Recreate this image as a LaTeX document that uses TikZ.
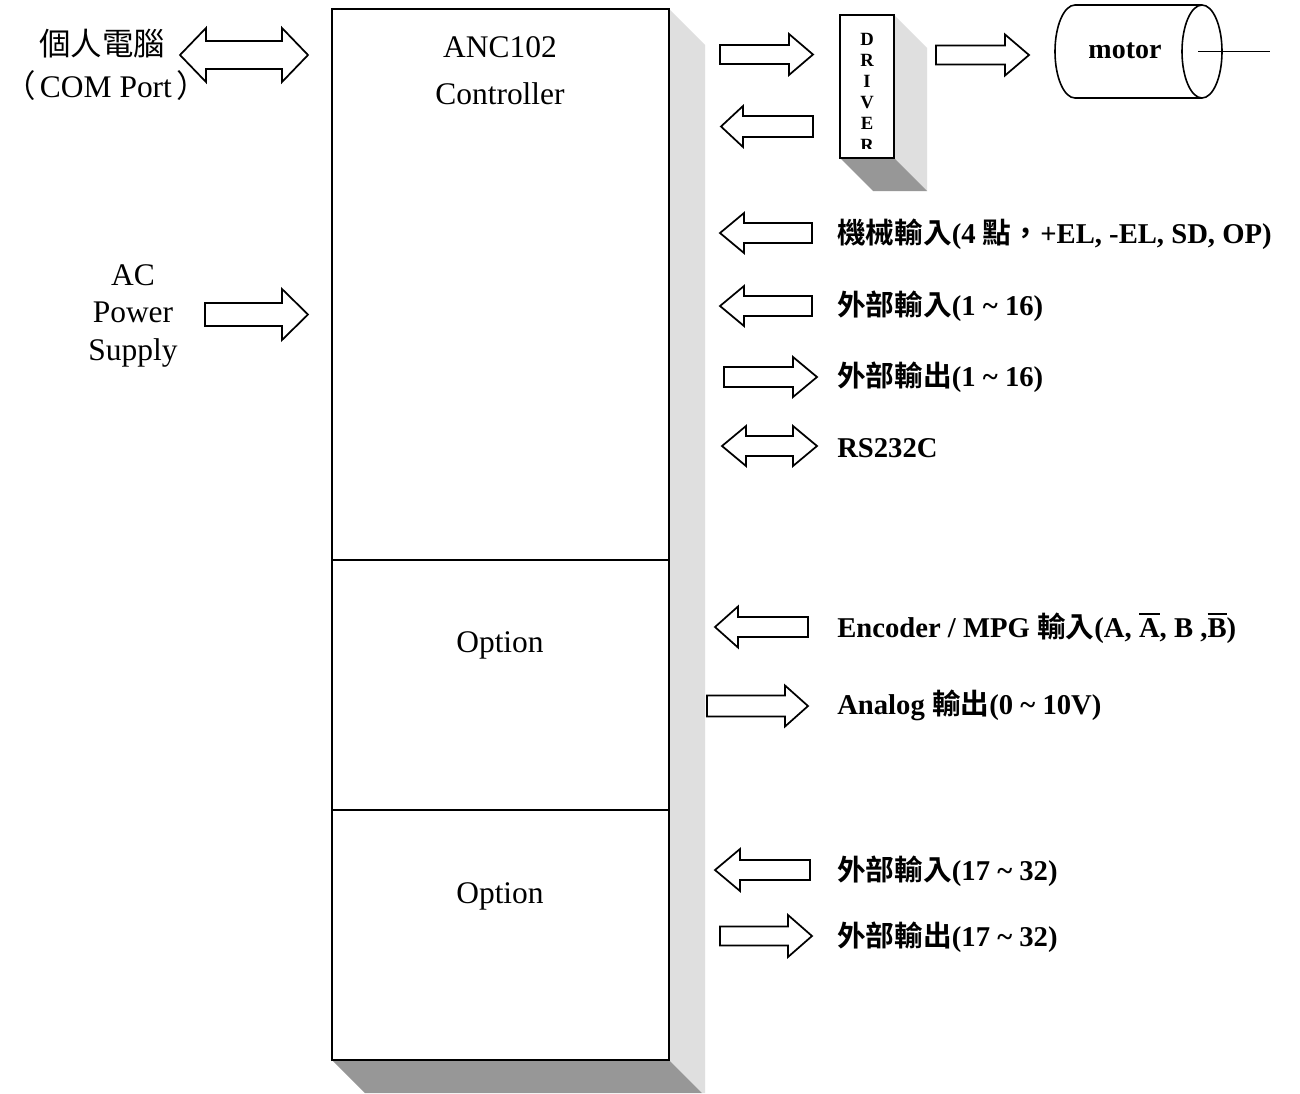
\documentclass[tikz,border=0pt]{standalone}
\usepackage{fontspec}
\setmainfont{Liberation Serif}
\newfontfamily\cjkfont{Noto Sans CJK TC}[BoldFont={Noto Sans CJK TC Bold}]
\newcommand\zh[1]{{\cjkfont #1}}
\newcommand\ovl[1]{\vbox{\hrule height 1.1pt\kern 2.5pt\hbox{#1}}}
\definecolor{shlight}{HTML}{DFDFDF}
\definecolor{shdark}{HTML}{979797}
% block arrows: #1 x-left, #2 x-right, #3 y-centre, #4 body half height, #5 head half height, #6 head length
\newcommand\RBlk[6]{\draw[blk] (#1,#3-#4) -- (#2-#6,#3-#4) -- (#2-#6,#3-#5) -- (#2,#3) -- (#2-#6,#3+#5) -- (#2-#6,#3+#4) -- (#1,#3+#4) -- cycle;}
\newcommand\LBlk[6]{\draw[blk] (#1,#3) -- (#1+#6,#3-#5) -- (#1+#6,#3-#4) -- (#2,#3-#4) -- (#2,#3+#4) -- (#1+#6,#3+#4) -- (#1+#6,#3+#5) -- cycle;}
\newcommand\DBlk[6]{\draw[blk] (#1,#3) -- (#1+#6,#3-#5) -- (#1+#6,#3-#4) -- (#2-#6,#3-#4) -- (#2-#6,#3-#5) -- (#2,#3) -- (#2-#6,#3+#5) -- (#2-#6,#3+#4) -- (#1+#6,#3+#4) -- (#1+#6,#3+#5) -- cycle;}
\begin{document}
\begin{tikzpicture}[x=0.75pt,y=-0.75pt,
  blk/.style={draw=black,line width=1.3pt,fill=white,line join=miter},
  boxln/.style={draw=black,line width=1.5pt},
  rm/.style={inner sep=0pt,font=\fontsize{23.6}{28}\selectfont},
  lbl/.style={anchor=base west,inner sep=0pt,font=\bfseries\fontsize{21.5}{24}\selectfont},
  drv/.style={anchor=base,inner sep=0pt,font=\bfseries\fontsize{14}{15}\selectfont},
  mot/.style={anchor=base,inner sep=0pt,font=\bfseries\fontsize{21}{24}\selectfont}]
\useasboundingbox (0,0) rectangle (1300,1093);
\fill[white] (0,0) rectangle (1300,1093);

% ---- main controller box with shadow
\fill[shlight] (669,9) -- (705,45) -- (705,1093) -- (702,1093) -- (669,1060) -- cycle;
\fill[shdark] (332,1060) -- (365,1093) -- (702,1093) -- (669,1060) -- cycle;
\draw[boxln,fill=white] (332,9) rectangle (669,1060);
\coordinate (divA) at (332,560); \coordinate (divAr) at (669,560);
\coordinate (divB) at (332,810); \coordinate (divBr) at (669,810);
\draw[boxln] (divA) -- (divAr);
\draw[boxln] (divB) -- (divBr);

\node[rm,anchor=base] (anc) at (500,57) {ANC102};
\node[rm,anchor=base] (ctl) at (500,104) {Controller};
\node[rm,anchor=base] (opt1) at (500,652) {Option};
\node[rm,anchor=base] (opt2) at (500,903) {Option};

% ---- left side
\node[rm,anchor=base] (pc) at (102,55) {\zh{個人電腦}};
\node[rm,anchor=base] (com) at (106,97) {\zh{（}\hspace{3pt}COM Port\hspace{3pt}\zh{）}};
\DBlk{180}{308}{55}{14}{27}{26}
\node[rm,anchor=base] (ac) at (133,285) {AC};
\node[rm,anchor=base] (pw) at (133,322) {Power};
\node[rm,anchor=base] (sp) at (133,360) {Supply};
\RBlk{205}{308}{314.5}{11.5}{25.5}{26}

% ---- driver with shadow
\fill[shlight] (894,15) -- (927,48) -- (927,191) -- (894,158) -- cycle;
\fill[shdark] (840,158) -- (873,191) -- (927,191) -- (894,158) -- cycle;
\draw[boxln,fill=white] (840,15) rectangle (894,158);
\begin{scope}
\clip (840,15) rectangle (894,148);
\node[drv] (d1) at (867,45) {D};
\node[drv] (d2) at (867,66) {R};
\node[drv] (d3) at (867,87) {I};
\node[drv] (d4) at (867,108) {V};
\node[drv] (d5) at (867,129) {E};
\node[drv] (d6) at (867,151) {R};
\end{scope}
\RBlk{720}{813}{54.5}{9.5}{20.5}{24}
\LBlk{721}{813}{126.5}{10.5}{20.5}{22}
\RBlk{936}{1029}{55}{9.5}{20.5}{24}

% ---- motor
\draw[line width=1.2pt] (1202,5) -- (1075,5) arc[start angle=90,end angle=270,x radius=15pt,y radius=34.875pt] -- (1202,98);
\draw[line width=1.2pt] (1202,51.5) ellipse[x radius=15pt,y radius=34.875pt];
\coordinate (shaftA) at (1198,51.5);
\coordinate (shaftB) at (1270,51.5);
\draw[line width=1.2pt] (shaftA) -- (shaftB);
\node[mot] (motor) at (1125,58) {motor};

% ---- right side signals
\LBlk{720}{812}{233}{10}{20}{24}
\node[lbl] (l1) at (837,243) {\zh{機械輸入}(4 \zh{點，}+EL, -EL, SD, OP)};
\LBlk{720}{812}{306}{10}{20}{24}
\node[lbl] (l2) at (837,315) {\zh{外部輸入}(1 \textasciitilde{} 16)};
\RBlk{724}{817}{377}{10}{20}{24}
\node[lbl] (l3) at (837,386) {\zh{外部輸出}(1 \textasciitilde{} 16)};
\DBlk{722}{817}{446}{10}{20}{24}
\node[lbl] (l4) at (837,457) {RS232C};
\LBlk{715}{808}{627}{10}{20.5}{23}
\node[lbl] (l5) at (837,637) {Encoder / MPG \zh{輸入}(A, \ovl{A}, B ,\ovl{B})};
\RBlk{707}{808}{706}{10.5}{20.5}{23}
\node[lbl] (l6) at (837,714) {Analog \zh{輸出}(0 \textasciitilde{} 10V)};
\LBlk{715}{810}{870}{10}{21}{25}
\node[lbl] (l7) at (837,880) {\zh{外部輸入}(17 \textasciitilde{} 32)};
\RBlk{720}{812}{936}{9.5}{21}{24}
\node[lbl] (l8) at (837,946) {\zh{外部輸出}(17 \textasciitilde{} 32)};
\end{tikzpicture}
\end{document}
